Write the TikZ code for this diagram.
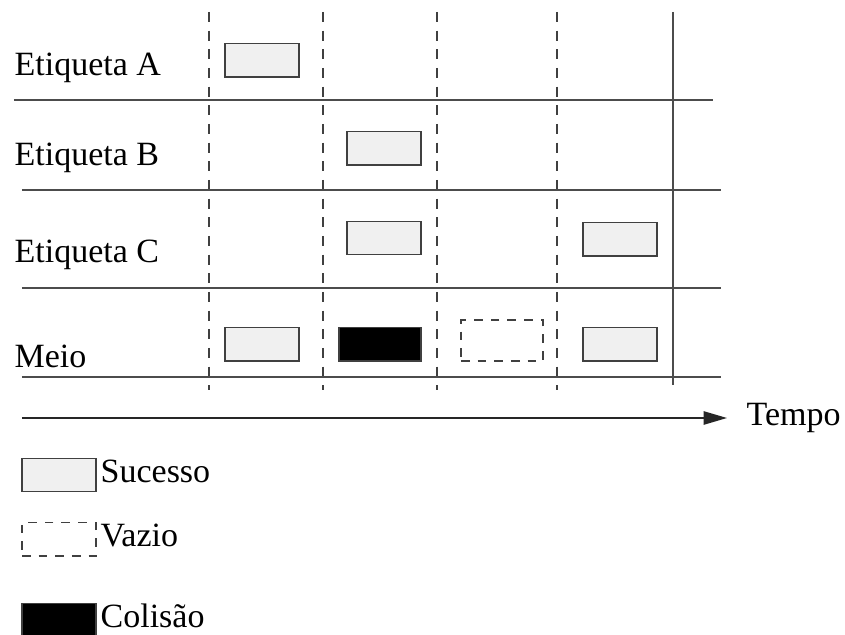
\documentclass[tikz,border=0pt]{standalone}
\usepackage{fontspec}
\setmainfont{Liberation Serif}
\usetikzlibrary{arrows.meta,positioning}

\begin{document}
\begin{tikzpicture}[
  x=0.3pt, y=-0.3pt,
  font=\fontsize{10.2}{12}\selectfont,
  grid/.style={draw=black!70,line width=0.4pt},
  slotline/.style={draw=black!75,line width=0.4pt,dash pattern=on 3pt off 2.6pt},
  slot/.style={draw=black!75,line width=0.4pt,inner sep=0pt,minimum width=22.2pt,minimum height=10pt},
  sucesso/.style={slot,fill=black!6},
  colisao/.style={slot,fill=black,minimum width=24.6pt},
  vazio/.style={slot,dash pattern=on 2.6pt off 2.4pt},
  lbl/.style={anchor=base west,inner sep=0pt},
  axis/.style={-{Triangle[length=7pt,width=4pt]},draw=black!85,line width=0.45pt},
]
\useasboundingbox (0,0) rectangle (845,635);

% slot boundaries
\foreach \x in {209,323,437,557}
  \draw[slotline] (\x,12) -- (\x,390);
\draw[grid] (673,12) -- (673,385);

% row separators
\draw[grid] (14,100) -- (713,100);
\foreach \y in {190,288,377}
  \draw[grid] (22,\y) -- (721,\y);

% row labels
\node[lbl] (etqA) at (14,76)  {Etiqueta A};
\node[lbl] (etqB) at (14,166) {Etiqueta B};
\node[lbl] (etqC) at (14,263) {Etiqueta C};
\node[lbl] (meio) at (14,368) {Meio};

% replies per tag
\node[sucesso] (a1) at (262,60.5)  {};
\node[sucesso] (b2) at (384,148.5) {};
\node[sucesso] (c2) at (384,238)   {};
\node[sucesso] (c4) at (620,239.5) {};

% what the medium sees
\node[sucesso] (m1) at (262,344.5) {};
\node[colisao] (m2) at (380,344.5) {};
\node[vazio,minimum width=24.6pt,minimum height=12.3pt] (m3) at (502,340.5) {};
\node[sucesso] (m4) at (620,344.5) {};

% time axis
\coordinate (t0) at (22,418);
\node[anchor=west,inner sep=0pt] (tempo) at (746,418) {Tempo};
\draw[axis,shorten >=5.7pt] (t0) -- (tempo.west);

% legend
\node[sucesso] (kS) at (59,475) {};
\node[lbl] (lS) at (100,483) {Sucesso};
\node[vazio] (kV) at (59,539.5) {};
\node[lbl] (lV) at (100,547) {Vazio};
\node[colisao,minimum width=22.2pt] (kC) at (59,620) {};
\node[lbl] (lC) at (100,628) {Colisão};
\end{tikzpicture}
\end{document}
